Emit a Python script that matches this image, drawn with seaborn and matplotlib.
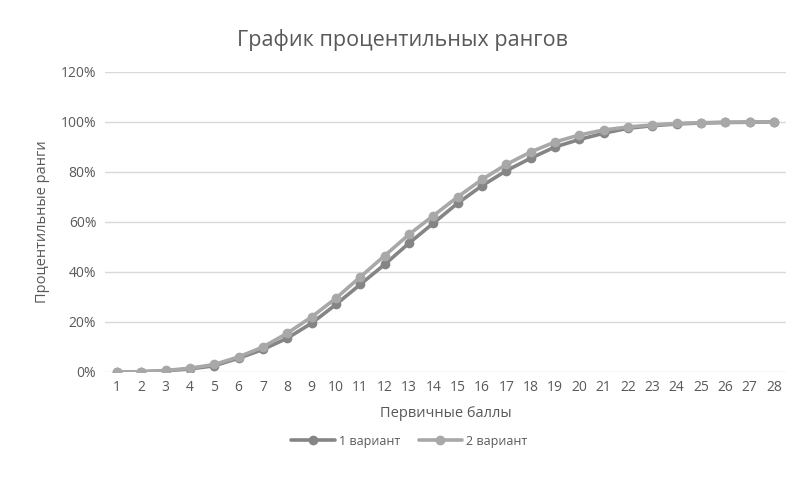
import numpy as np
import pandas as pd
import matplotlib
matplotlib.use("Agg")
import matplotlib.pyplot as plt
import seaborn as sns
from matplotlib.ticker import PercentFormatter

# Первичные баллы и процентильные ранги (в долях)
scores = list(range(1, 29))
variant1 = [0.000, 0.001, 0.005, 0.012, 0.025, 0.055, 0.090, 0.135, 0.195, 0.270,
            0.350, 0.430, 0.515, 0.595, 0.675, 0.745, 0.805, 0.855, 0.900, 0.930,
            0.955, 0.975, 0.985, 0.992, 0.996, 0.998, 0.999, 1.000]
variant2 = [0.000, 0.001, 0.006, 0.015, 0.030, 0.060, 0.100, 0.155, 0.220, 0.295,
            0.380, 0.465, 0.550, 0.625, 0.700, 0.770, 0.830, 0.880, 0.920, 0.948,
            0.968, 0.980, 0.988, 0.994, 0.997, 0.999, 1.000, 1.000]
series_names = ["1 вариант", "2 вариант"]

df = pd.DataFrame({
    "Первичные баллы": scores * 2,
    "ранг": variant1 + variant2,
    "вариант": [series_names[0]] * len(scores) + [series_names[1]] * len(scores),
})

sns.set_theme(style="white")
plt.rcParams['font.family'] = ['Open Sans', 'DejaVu Sans']
text_col = "#595959"

fig = plt.figure(figsize=(7.87, 4.79), dpi=100)
ax = fig.add_axes([0.133, 0.2234, 0.866, 0.6263])

sns.lineplot(data=df, x="Первичные баллы", y="ранг", hue="вариант",
             palette=["#858585", "#a8a8a8"], marker="o", markersize=7,
             markeredgewidth=0, linewidth=2.6, ax=ax, legend=True)

ax.set_xlim(0.5, 28.5)
ax.set_ylim(0, 1.2)
ax.set_xticks(scores)
ax.set_yticks(np.arange(0, 1.21, 0.2))
ax.yaxis.set_major_formatter(PercentFormatter(1.0, decimals=0))
ax.grid(axis="y", color="#d9d9d9", linewidth=1)
ax.set_axisbelow(True)
for s in ax.spines.values():
    s.set_visible(False)
ax.tick_params(axis="both", length=0, labelsize=10, colors=text_col, pad=6)

ax.set_xlabel("Первичные баллы", fontsize=10.5, color=text_col, labelpad=8)
ax.set_ylabel("Процентильные ранги", fontsize=10.5, color=text_col, labelpad=8)
fig.text(0.512, 0.903, "График процентильных рангов", ha="center",
         fontsize=15.5, color=text_col)

# легенда внизу по центру
handles, labels = ax.get_legend_handles_labels()
fig.legend(handles, labels, loc="center", bbox_to_anchor=(0.52, 1 - 441 / 479),
           ncol=2, frameon=False, fontsize=9, labelcolor=text_col,
           handlelength=3.5, columnspacing=1.5, handletextpad=0.3)
ax.get_legend().remove()

fig.savefig("out.png", dpi=100, facecolor="white")
